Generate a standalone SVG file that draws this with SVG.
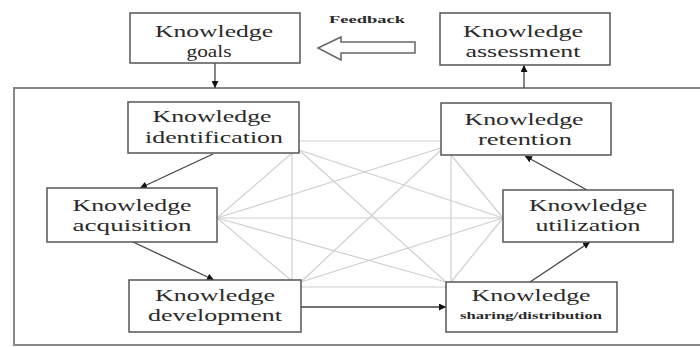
<svg xmlns="http://www.w3.org/2000/svg" width="700" height="347" viewBox="0 0 700 347">
<defs>
<style>
.box{fill:#fff;stroke:#555;stroke-width:1.5}
.t{font-family:"Liberation Serif","Times New Roman",serif;font-size:17px;fill:#2a2a2a;text-anchor:middle}
.s{font-family:"Liberation Serif","Times New Roman",serif;font-size:11px;font-weight:bold;fill:#2a2a2a;text-anchor:middle}
.web line{stroke:#d0d0d0;stroke-width:1.2}
.conn{stroke:#444;stroke-width:1.3;fill:none}
</style>
<marker id="ah" viewBox="0 0 10 10" refX="10" refY="5" markerWidth="7" markerHeight="7" markerUnits="userSpaceOnUse" orient="auto">
<path d="M0,0 L10,5 L0,10 z" fill="#111"/>
</marker>
</defs>
<rect width="700" height="347" fill="#fff"/>
<rect x="14" y="88" width="700" height="257" fill="none" stroke="#888" stroke-width="2"/>
<g class="web">
<line x1="299" y1="141" x2="441" y2="141"/>
<line x1="217" y1="218" x2="503" y2="218"/>
<line x1="301" y1="287" x2="446" y2="287"/>
<line x1="292" y1="153" x2="292" y2="281"/>
<line x1="451" y1="155" x2="451" y2="282"/>
<line x1="217" y1="218" x2="292" y2="153"/>
<line x1="217" y1="218" x2="441" y2="148"/>
<line x1="217" y1="218" x2="292" y2="281"/>
<line x1="217" y1="218" x2="446" y2="282"/>
<line x1="503" y1="218" x2="451" y2="155"/>
<line x1="503" y1="218" x2="299" y2="150"/>
<line x1="503" y1="218" x2="301" y2="282"/>
<line x1="503" y1="218" x2="451" y2="282"/>
<line x1="299" y1="150" x2="446" y2="282"/>
<line x1="441" y1="150" x2="301" y2="282"/>
</g>
<g id="connectors">
<line class="conn" x1="215" y1="63" x2="215" y2="88" marker-end="url(#ah)"/>
<line class="conn" x1="524" y1="88" x2="524" y2="65" marker-end="url(#ah)"/>
<line class="conn" x1="213" y1="154" x2="140" y2="188" marker-end="url(#ah)"/>
<line class="conn" x1="133" y1="242" x2="214" y2="280" marker-end="url(#ah)"/>
<line class="conn" x1="301" y1="307" x2="446" y2="307" marker-end="url(#ah)"/>
<line class="conn" x1="530" y1="282" x2="590" y2="242" marker-end="url(#ah)"/>
<line class="conn" x1="587" y1="190" x2="525" y2="156" marker-end="url(#ah)"/>
<path d="M318,48 L341,37 L341,42 L415,42 L415,53 L341,53 L341,60 Z" fill="#fff" stroke="#666" stroke-width="1.5"/>
<text class="s" x="367" y="23" textLength="76" lengthAdjust="spacingAndGlyphs">Feedback</text>
</g>
<g id="goals">
<rect class="box" x="130" y="13" width="170" height="50"/>
<text class="t" x="214" y="37" textLength="118" lengthAdjust="spacingAndGlyphs">Knowledge</text>
<text class="t" x="209" y="57" textLength="45" lengthAdjust="spacingAndGlyphs">goals</text>
</g>
<g id="assessment">
<rect class="box" x="440" y="13" width="170" height="52"/>
<text class="t" x="523" y="37" textLength="120" lengthAdjust="spacingAndGlyphs">Knowledge</text>
<text class="t" x="523" y="57" textLength="115" lengthAdjust="spacingAndGlyphs">assessment</text>
</g>
<g id="identification">
<rect class="box" x="128" y="102" width="171" height="51"/>
<text class="t" x="212" y="122" textLength="119" lengthAdjust="spacingAndGlyphs">Knowledge</text>
<text class="t" x="214" y="143" textLength="138" lengthAdjust="spacingAndGlyphs">identification</text>
</g>
<g id="retention">
<rect class="box" x="441" y="103" width="170" height="52"/>
<text class="t" x="524" y="125" textLength="119" lengthAdjust="spacingAndGlyphs">Knowledge</text>
<text class="t" x="525" y="145" textLength="94" lengthAdjust="spacingAndGlyphs">retention</text>
</g>
<g id="acquisition">
<rect class="box" x="47" y="188" width="170" height="54"/>
<text class="t" x="132" y="211" textLength="119" lengthAdjust="spacingAndGlyphs">Knowledge</text>
<text class="t" x="132" y="231" textLength="119" lengthAdjust="spacingAndGlyphs">acquisition</text>
</g>
<g id="utilization">
<rect class="box" x="503" y="190" width="170" height="52"/>
<text class="t" x="588" y="211" textLength="118" lengthAdjust="spacingAndGlyphs">Knowledge</text>
<text class="t" x="588" y="231" textLength="105" lengthAdjust="spacingAndGlyphs">utilization</text>
</g>
<g id="development">
<rect class="box" x="129" y="280" width="172" height="52"/>
<text class="t" x="215" y="301" textLength="120" lengthAdjust="spacingAndGlyphs">Knowledge</text>
<text class="t" x="215" y="321" textLength="134" lengthAdjust="spacingAndGlyphs">development</text>
</g>
<g id="sharing">
<rect class="box" x="446" y="282" width="171" height="50"/>
<text class="t" x="531" y="301" textLength="119" lengthAdjust="spacingAndGlyphs">Knowledge</text>
<text class="s" x="531" y="319" textLength="142" lengthAdjust="spacingAndGlyphs">sharing/distribution</text>
</g>
</svg>
